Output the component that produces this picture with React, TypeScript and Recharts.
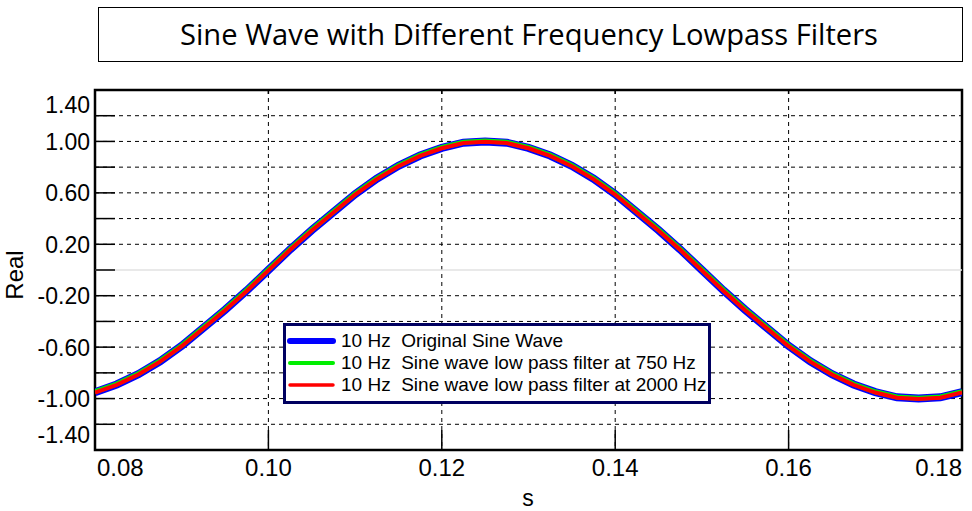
import {
  LineChart,
  Line,
  XAxis,
  YAxis,
  CartesianGrid,
  ReferenceLine,
  ReferenceArea,
} from "recharts";

// time samples (s)
const timeS = [
  0.08, 0.0825, 0.085, 0.0875, 0.09, 0.0925, 0.095, 0.0975, 0.1, 0.1025,
  0.105, 0.1075, 0.11, 0.1125, 0.115, 0.1175, 0.12, 0.1225, 0.125, 0.1275,
  0.13, 0.1325, 0.135, 0.1375, 0.14, 0.1425, 0.145, 0.1475, 0.15, 0.1525,
  0.155, 0.1575, 0.16, 0.1625, 0.165, 0.1675, 0.17, 0.1725, 0.175, 0.1775,
  0.18,
];

const originalWave = [
  -0.95, -0.89, -0.81, -0.71, -0.59, -0.45, -0.31, -0.16, 0.0, 0.16,
  0.31, 0.45, 0.59, 0.71, 0.81, 0.89, 0.95, 0.99, 1.0, 0.99,
  0.95, 0.89, 0.81, 0.71, 0.59, 0.45, 0.31, 0.16, 0.0, -0.16,
  -0.31, -0.45, -0.59, -0.71, -0.81, -0.89, -0.95, -0.99, -1.0, -0.99,
  -0.95,
];

const lowpass750 = [
  -0.947, -0.887, -0.807, -0.707, -0.587, -0.447, -0.307, -0.157, 0.003, 0.163,
  0.313, 0.453, 0.593, 0.713, 0.813, 0.893, 0.953, 0.993, 1.003, 0.993,
  0.953, 0.893, 0.813, 0.713, 0.593, 0.453, 0.313, 0.163, 0.003, -0.157,
  -0.307, -0.447, -0.587, -0.707, -0.807, -0.887, -0.947, -0.987, -0.997, -0.987,
  -0.947,
];

const lowpass2000 = [
  -0.953, -0.893, -0.813, -0.713, -0.593, -0.453, -0.313, -0.163, -0.003, 0.157,
  0.307, 0.447, 0.587, 0.707, 0.807, 0.887, 0.947, 0.987, 0.997, 0.987,
  0.947, 0.887, 0.807, 0.707, 0.587, 0.447, 0.307, 0.157, -0.003, -0.163,
  -0.313, -0.453, -0.593, -0.713, -0.813, -0.893, -0.953, -0.993, -1.003, -0.993,
  -0.953,
];

const xTicks = [0.08, 0.1, 0.12, 0.14, 0.16, 0.18];
const xGrid = [0.1, 0.12, 0.14, 0.16];
const yTicks = [1.4, 1.2, 1.0, 0.8, 0.6, 0.4, 0.2, 0, -0.2, -0.4, -0.6, -0.8, -1.0, -1.2, -1.4];
const yLabels = [1.4, 1.0, 0.6, 0.2, -0.2, -0.6, -1.0, -1.4];
const yGrid = [1.2, 1.0, 0.8, 0.6, 0.4, 0.2, -0.2, -0.4, -0.6, -0.8, -1.0, -1.2];

const legendItems = [
  { name: "10 Hz  Original Sine Wave", color: "#0000ff", width: 6 },
  { name: "10 Hz  Sine wave low pass filter at 750 Hz", color: "#00ee00", width: 4 },
  { name: "10 Hz  Sine wave low pass filter at 2000 Hz", color: "#ff0000", width: 3.5 },
];

const chartData = timeS.map((t, i) => ({
  t,
  original: originalWave[i],
  lp750: lowpass750[i],
  lp2000: lowpass2000[i],
}));

const FONT = "'Liberation Sans', Arial, sans-serif";
const PLOT_H = 360;

function YTick(props: any) {
  const { x, y, payload } = props;
  const v = payload.value;
  const left = x + 5;
  let ty = y + 8.5;
  if (v === 1.4) ty = y + 23;
  if (v === -1.4) ty = y - 7;
  const edge = v === 1.4 || v === -1.4;
  return (
    <g>
      {!edge && (
        <line x1={left} x2={left + 20} y1={y} y2={y} stroke="#000" strokeWidth={1.5} />
      )}
      {yLabels.includes(v) && (
        <text x={x} y={ty} textAnchor="end" fontFamily={FONT} fontSize={23} fill="#000">
          {v.toFixed(2)}
        </text>
      )}
    </g>
  );
}

function XTick(props: any) {
  const { x, y, payload, index } = props;
  const v = payload.value;
  const first = index === 0;
  const last = index === xTicks.length - 1;
  const anchor = first ? "start" : last ? "end" : "middle";
  const tx = first ? x + 2 : x;
  return (
    <g>
      {!first && !last && (
        <>
          <line x1={x} x2={x} y1={y - 20} y2={y} stroke="#000" strokeWidth={1.5} />
          <line x1={x} x2={x} y1={y - PLOT_H} y2={y - PLOT_H + 4} stroke="#000" strokeWidth={1.5} />
        </>
      )}
      <text x={tx} y={y + 26} textAnchor={anchor} fontFamily={FONT} fontSize={24} fill="#000">
        {v.toFixed(2)}
      </text>
    </g>
  );
}

export default function App() {
  return (
    <div
      style={{
        position: "absolute",
        left: 0,
        top: 0,
        width: 972,
        height: 511,
        background: "#fff",
      }}
    >
      <LineChart
        width={972}
        height={511}
        data={chartData}
        margin={{ top: 90, right: 10, left: 0, bottom: 0 }}
      >
        <CartesianGrid
          stroke="#000"
          strokeDasharray="4 4"
          strokeWidth={1}
          horizontalValues={yGrid}
          verticalValues={xGrid}
        />
        <ReferenceLine y={0} stroke="#e2e2e2" strokeWidth={1.5} />
        <XAxis
          dataKey="t"
          type="number"
          domain={[0.08, 0.18]}
          ticks={xTicks}
          allowDataOverflow
          axisLine={false}
          tickLine={false}
          tickSize={0}
          tickMargin={0}
          height={61}
          interval={0}
          tick={<XTick />}
        />
        <YAxis
          type="number"
          domain={[-1.4, 1.4]}
          ticks={yTicks}
          allowDataOverflow
          axisLine={false}
          tickLine={false}
          tickSize={0}
          tickMargin={5}
          width={95}
          interval={0}
          tick={<YTick />}
        />
        <Line
          type="linear"
          dataKey="original"
          stroke="#0000ff"
          strokeWidth={8}
          dot={false}
          isAnimationActive={false}
        />
        <Line
          type="linear"
          dataKey="lp750"
          stroke="#00ee00"
          strokeWidth={5}
          dot={false}
          isAnimationActive={false}
        />
        <Line
          type="linear"
          dataKey="lp2000"
          stroke="#ff0000"
          strokeWidth={4}
          dot={false}
          isAnimationActive={false}
        />
        <ReferenceArea
          x1={0.08}
          x2={0.18}
          y1={-1.4}
          y2={1.4}
          fill="none"
          fillOpacity={0}
          stroke="#000"
          strokeWidth={2.5}
          ifOverflow="visible"
        />
      </LineChart>

      {/* title and axis names */}
      <svg
        width={972}
        height={511}
        style={{ position: "absolute", left: 0, top: 0, pointerEvents: "none" }}
      >
        <rect x={98.5} y={7.5} width={864} height={54} fill="none" stroke="#000" strokeWidth={1} />
        <text
          x={529}
          y={45}
          textAnchor="middle"
          fontFamily="'Open Sans', 'Noto Sans', sans-serif"
          fontSize={30}
          textLength={698}
          lengthAdjust="spacingAndGlyphs"
          fill="#000"
        >
          Sine Wave with Different Frequency Lowpass Filters
        </text>
        <text
          transform="translate(23, 275) rotate(-90)"
          textAnchor="middle"
          fontFamily={FONT}
          fontSize={24}
          fill="#000"
        >
          Real
        </text>
        <text x={528} y={506} textAnchor="middle" fontFamily={FONT} fontSize={23} fill="#000">
          s
        </text>
      </svg>

      {/* legend box */}
      <div
        style={{
          position: "absolute",
          left: 283,
          top: 323,
          width: 428,
          height: 81,
          boxSizing: "border-box",
          border: "3px solid #000060",
          background: "#fff",
          paddingTop: 4,
          fontFamily: FONT,
          fontSize: 19,
          color: "#000",
        }}
      >
        {legendItems.map((item) => (
          <div
            key={item.name}
            style={{ display: "flex", alignItems: "center", height: 22, whiteSpace: "pre" }}
          >
            <svg width={55} height={22} style={{ flex: "none" }}>
              <line
                x1={4}
                x2={47}
                y1={11}
                y2={11}
                stroke={item.color}
                strokeWidth={item.width}
                strokeLinecap="round"
              />
            </svg>
            <span>{item.name}</span>
          </div>
        ))}
      </div>
    </div>
  );
}
